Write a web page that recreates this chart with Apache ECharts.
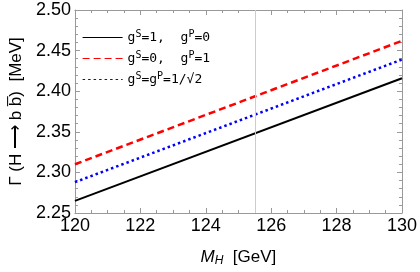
<!DOCTYPE html>
<html><head><meta charset="utf-8">
<script src="https://cdn.jsdelivr.net/npm/echarts@6/dist/echarts.min.js"></script>
<style>html,body{margin:0;padding:0;background:#fff}#c{width:420px;height:272px}</style>
</head><body><div id="c"></div>
<script>
const massRange = [120, 130];
const blackVals = [2.265, 2.416];
const redVals = [2.310, 2.462];
const blueVals = [2.288, 2.439];
const refMass = 125.5;
const seriesNames = ['s1', 's0', 'mix'];

const chart = echarts.init(document.getElementById('c'), null, {renderer: 'canvas'});
const pts = v => massRange.map((m, i) => [m, v[i]]);
const tickFont = {fontFamily: 'Liberation Sans, Arial, sans-serif', fontSize: 18, color: '#000'};
const axisLineStyle = {color: '#999', width: 1};
const mono = 'DejaVu Sans Mono, monospace';
const legendRich = {
  t: {fontFamily: mono, fontSize: 13, color: '#000'},
  sup: {fontFamily: mono, fontSize: 10, color: '#000', padding: [0, 0, 7, 0]}
};
const legendText = {
  s1: '{t|g}{sup|S}{t|=1,  g}{sup|P}{t|=0}',
  s0: '{t|g}{sup|S}{t|=0,  g}{sup|P}{t|=1}',
  mix: '{t|g}{sup|S}{t|=g}{sup|P}{t|=1/\u221A2}'
};
const xBase = {
  type: 'value', min: 120, max: 130, interval: 2,
  axisLine: {show: true, onZero: false, lineStyle: axisLineStyle},
  axisTick: {show: true, inside: true, length: 5, lineStyle: axisLineStyle},
  minorTick: {show: true, splitNumber: 4, length: 3, lineStyle: axisLineStyle},
  splitLine: {show: false}
};
const yBase = {
  type: 'value', min: 2.25, max: 2.5, interval: 0.05,
  axisLine: {show: true, onZero: false, lineStyle: axisLineStyle},
  axisTick: {show: true, inside: true, length: 5, lineStyle: axisLineStyle},
  minorTick: {show: true, splitNumber: 5, length: 3, lineStyle: axisLineStyle},
  splitLine: {show: false}
};
chart.setOption({
  animation: false,
  grid: {left: 64, right: 15, top: 10, bottom: 52},
  legend: {
    show: true,
    orient: 'vertical', left: 77, top: 24, itemWidth: 40, itemHeight: 10, itemGap: 6,
    data: seriesNames,
    formatter: function (n) { return legendText[n]; },
    textStyle: {rich: legendRich},
    itemStyle: {opacity: 0},
    lineStyle: {width: 1.2}
  },
  xAxis: [
    Object.assign({}, xBase, {
      position: 'bottom',
      axisLabel: Object.assign({margin: 4}, tickFont),
      name: '{m|M}{s|H}{t|  [GeV]}', nameLocation: 'middle', nameGap: 34,
      nameTextStyle: {rich: {
        m: {fontFamily: 'Liberation Sans, Arial', fontStyle: 'italic', fontSize: 17, color: '#000'},
        s: {fontFamily: 'Liberation Sans, Arial', fontStyle: 'italic', fontSize: 12, color: '#000', padding: [8, 0, 0, 0]},
        t: {fontFamily: 'Liberation Sans, Arial', fontSize: 17, color: '#000'}
      }}
    }),
    Object.assign({}, xBase, {position: 'top', axisLabel: {show: false}})
  ],
  yAxis: [
    Object.assign({}, yBase, {
      position: 'left',
      axisLabel: Object.assign({margin: 4, formatter: v => v.toFixed(2)}, tickFont),
      name: '\u0393 (H \u27F6 b b\u0305)  [MeV]', nameLocation: 'middle', nameGap: 46, nameRotate: 90,
      nameTextStyle: {fontFamily: 'Liberation Sans, Arial', fontSize: 17, color: '#000'}
    }),
    Object.assign({}, yBase, {position: 'right', axisLabel: {show: false}})
  ],
  series: [
    {name: 's1', type: 'line', data: pts(blackVals), showSymbol: false, symbol: 'none',
     lineStyle: {color: '#000', width: 2}, itemStyle: {color: '#000'}, z: 3,
     markLine: {silent: true, symbol: 'none', label: {show: false},
       lineStyle: {color: '#ccc', width: 1, type: 'solid'}, data: [{xAxis: refMass}]}},
    {name: 's0', type: 'line', data: pts(redVals), showSymbol: false, symbol: 'none',
     lineStyle: {color: '#ff0000', width: 2.5, type: [7, 4]}, itemStyle: {color: '#ff0000'}, z: 3},
    {name: 'mix', type: 'line', data: pts(blueVals), showSymbol: false, symbol: 'none',
     lineStyle: {color: '#0000ff', width: 2.5, type: [2.5, 3]}, itemStyle: {color: '#0000ff'}, z: 3}
  ]
});
</script></body></html>
